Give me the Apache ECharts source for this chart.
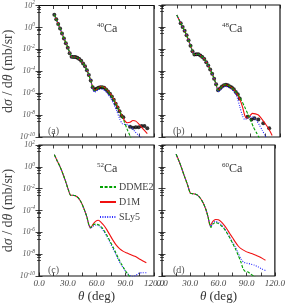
<!DOCTYPE html>
<html><head><meta charset="utf-8">
<script src="https://cdn.jsdelivr.net/npm/echarts@6/dist/echarts.min.js"></script>
<style>html,body{margin:0;padding:0;background:#fff}#c{width:288px;height:305px}</style>
</head><body><div id="c"></div>
<script>
// ---------- tick labels ----------
const xTickValues = [0, 30, 60, 90, 120];
const xTickLabels = ['0.0', '30.0', '60.0', '90.0', '120.0'];
const yTickExps = [2, 0, -2, -4, -6, -8, -10];
const panelTags = ['(a)', '(b)', '(c)', '(d)'];
const isotopes = [['40', 'Ca'], ['48', 'Ca'], ['52', 'Ca'], ['60', 'Ca']];
const modelNames = ['DDME2', 'D1M', 'SLy5'];

// ---------- panel (a) 40Ca ----------
const a_common = [[16,1.5e1],[18,5.6],[21,1.26],[24,2.8e-1],[27,6.3e-2],[30,1.6e-2],[32,5.0e-3],[34,2.1e-3],[36,2.0e-3],[39,1.9e-3],[42,1.3e-3],[45,7.1e-4],[48,2.8e-4],[51,7.9e-5],[54,1.4e-5]];
const a_ddme2 = a_common.concat([[56,3.5e-6],[58,1.8e-6],[60,2.2e-6],[62,3.2e-6],[65,3.8e-6],[68,3.2e-6],[71,1.9e-6],[74,8.9e-7],[77,3.5e-7],[80,1.1e-7],[83,3.5e-8],[86,1.0e-8],[89,2.5e-9],[92,5.0e-10],[95,1.26e-10],[98,3.2e-11]]);
const a_d1m = a_common.concat([[56,3.5e-6],[58,1.8e-6],[60,2.2e-6],[62,3.2e-6],[65,4.0e-6],[68,3.5e-6],[71,2.0e-6],[74,1.0e-6],[77,4.0e-7],[80,1.3e-7],[83,4.0e-8],[86,1.1e-8],[89,3.5e-9],[92,2.0e-9],[95,2.2e-9],[98,3.2e-9],[101,2.8e-9],[104,1.6e-9],[107,7.9e-10],[110,4.0e-10],[113,2.0e-10]]);
const a_sly5 = a_common.concat([[56,2.5e-6],[58,1.26e-6],[60,1.6e-6],[63,2.2e-6],[66,2.2e-6],[69,1.6e-6],[72,7.9e-7],[75,3.2e-7],[78,1.0e-7],[81,2.5e-8],[84,5.0e-9],[87,1.6e-9],[90,1.4e-9],[93,1.26e-9],[96,7.9e-10],[100,3.2e-10],[104,1.4e-10],[108,6.3e-11]]);
const a_exp = [[16,1.4e1],[18,5.6],[20,2.0],[22,7.9e-1],[24,2.8e-1],[26,1.0e-1],[28,3.5e-2],[30,1.4e-2],[32,4.5e-3],[34,2.1e-3],[36,2.0e-3],[38,2.0e-3],[40,1.7e-3],[42,1.3e-3],[44,8.9e-4],[46,5.0e-4],[48,2.8e-4],[50,1.26e-4],[52,4.5e-5],[54,1.4e-5],[56,3.5e-6],[58,2.0e-6],[60,2.5e-6],[62,3.2e-6],[64,3.5e-6],[66,3.5e-6],[68,3.2e-6],[70,2.2e-6],[72,1.4e-6],[74,8.9e-7],[76,5.0e-7],[78,2.5e-7],[80,1.1e-7],[82,5.0e-8],[84,2.2e-8],[86,8.9e-9],[88,6.3e-9],[95,8.7e-10],[98,7.1e-10],[101,7.6e-10],[104,7.9e-10],[107,1.0e-9],[110,1.0e-9],[113,6.3e-10]];

// ---------- panel (b) 48Ca ----------
const b_common = [[15,1.26e1],[18,3.5],[21,1.0],[24,2.8e-1],[27,6.3e-2],[30,1.1e-2],[32,3.5e-3],[34,3.2e-3],[37,3.3e-3],[40,2.2e-3],[43,1.26e-3],[46,4.5e-4],[49,1.4e-4],[52,3.5e-5],[55,6.3e-6]];
const b_ddme2 = b_common.concat([[57,1.8e-6],[59,2.5e-6],[61,4.0e-6],[64,5.6e-6],[67,5.0e-6],[70,3.5e-6],[73,2.0e-6],[76,1.0e-6],[78,6.3e-7],[81,2.0e-7],[84,5.6e-8],[87,1.4e-8],[90,3.5e-9],[93,7.9e-10],[96,2.5e-10],[99,7.9e-11]]);
const b_d1m = b_common.concat([[57,1.8e-6],[59,2.5e-6],[61,4.0e-6],[64,5.6e-6],[67,5.0e-6],[70,3.5e-6],[73,2.0e-6],[76,8.9e-7],[79,2.8e-7],[82,5.0e-8],[84,1.0e-8],[86,5.0e-9],[89,7.9e-9],[92,1.4e-8],[95,1.26e-8],[98,1.0e-8],[101,5.0e-9],[104,2.2e-9],[107,8.9e-10],[110,3.2e-10],[112,1.4e-10]]);
const b_sly5 = b_common.concat([[57,1.3e-6],[59,1.8e-6],[61,2.8e-6],[64,4.0e-6],[67,3.5e-6],[70,2.5e-6],[73,1.4e-6],[76,5.0e-7],[79,6.3e-8],[82,7.9e-9],[84,4.0e-9],[87,5.0e-9],[90,7.1e-9],[93,6.3e-9],[96,3.2e-9],[99,1.26e-9],[102,4.0e-10],[105,1.26e-10],[108,4.0e-11]]);
const b_exp = [[19,2.2],[21,1.0],[23,4.5e-1],[25,1.8e-1],[27,6.3e-2],[29,2.0e-2],[31,6.3e-3],[33,3.2e-3],[35,3.3e-3],[37,3.3e-3],[39,2.5e-3],[41,1.9e-3],[43,1.26e-3],[45,6.3e-4],[47,3.2e-4],[49,1.4e-4],[51,5.6e-5],[53,2.0e-5],[55,6.3e-6],[57,1.8e-6],[59,2.5e-6],[61,4.0e-6],[63,5.0e-6],[65,5.6e-6],[67,5.0e-6],[69,4.0e-6],[71,3.2e-6],[73,2.2e-6],[75,1.26e-6],[77,7.9e-7],[79,3.2e-7],[87,7.1e-9],[91,4.0e-9],[94,5.0e-9],[98,4.0e-9],[103,1.8e-9],[109,6.3e-10]];

// ---------- panel (c) 52Ca ----------
const c_common = [[16,1.26e1],[19,3.5],[22,1.0],[25,2.2e-1],[28,4.0e-2],[31,6.3e-3],[33,2.5e-3],[35,2.5e-3],[38,2.2e-3],[41,1.4e-3],[44,5.6e-4],[47,1.4e-4],[50,2.5e-5],[52,5.0e-6]];
const c_ddme2 = c_common.concat([[54,2.8e-6],[56,4.5e-6],[59,5.6e-6],[62,5.0e-6],[65,3.2e-6],[68,1.4e-6],[71,5.0e-7],[74,1.6e-7],[77,5.0e-8],[80,1.4e-8],[83,4.0e-9],[86,1.26e-9],[89,4.5e-10],[92,1.8e-10],[95,7.9e-11]]);
const c_d1m = c_common.concat([[54,2.5e-6],[56,5.0e-6],[59,1.0e-5],[62,1.26e-5],[65,7.9e-6],[68,4.0e-6],[71,1.6e-6],[74,5.6e-7],[77,2.0e-7],[80,7.9e-8],[84,3.2e-8],[88,1.8e-8],[92,1.26e-8],[96,8.9e-9],[100,6.3e-9],[104,4.0e-9],[108,2.5e-9],[112,1.6e-9]]);
const c_sly5 = c_common.concat([[54,2.2e-6],[56,3.5e-6],[59,4.5e-6],[62,4.0e-6],[65,2.5e-6],[68,1.1e-6],[71,4.0e-7],[74,1.26e-7],[77,3.5e-8],[80,1.0e-8],[83,2.8e-9],[86,1.0e-9],[89,4.0e-10],[92,1.8e-10],[95,1.1e-10],[98,8.9e-11],[101,1.1e-10],[104,1.8e-10],[108,2.0e-10],[112,2.0e-10]]);

// ---------- panel (d) 60Ca ----------
const d_common = [[15,1.4e1],[18,3.5],[21,7.1e-1],[24,1.26e-1],[27,2.5e-2],[30,4.0e-3],[32,3.5e-3],[35,3.2e-3],[38,2.4e-3],[41,1.26e-3],[44,4.5e-4],[47,1.0e-4],[49,2.5e-5],[51,4.5e-6]];
const d_ddme2 = d_common.concat([[52,2.8e-6],[54,5.6e-6],[57,7.9e-6],[60,6.3e-6],[63,4.0e-6],[66,2.2e-6],[69,8.9e-7],[72,3.2e-7],[75,1.0e-7],[78,3.2e-8],[81,7.9e-9],[84,1.8e-9],[86,5.0e-10],[88,2.8e-10],[91,2.4e-10],[94,1.6e-10],[98,8.9e-11],[102,5.0e-11]]);
const d_d1m = d_common.concat([[52,5.0e-6],[54,1.0e-5],[57,1.5e-5],[60,1.4e-5],[63,8.9e-6],[66,4.5e-6],[69,2.0e-6],[72,7.9e-7],[75,3.2e-7],[78,1.26e-7],[81,5.6e-8],[84,3.2e-8],[88,2.0e-8],[92,1.4e-8],[96,1.1e-8],[100,7.9e-9],[104,5.6e-9],[108,3.5e-9],[110,2.8e-9]]);
const d_sly5 = d_common.concat([[52,3.5e-6],[54,7.1e-6],[57,1.0e-5],[60,7.9e-6],[63,5.0e-6],[66,2.5e-6],[69,1.0e-6],[72,3.5e-7],[75,1.26e-7],[78,4.5e-8],[81,1.26e-8],[84,3.5e-9],[87,1.8e-9],[90,1.5e-9],[94,1.26e-9],[98,1.0e-9],[102,7.1e-10],[106,4.5e-10],[110,3.2e-10]]);

// ---------- chart ----------
const SERIF = "'Liberation Serif','DejaVu Serif',serif";
const panels = [
  {exp: a_exp, ddme2: a_ddme2, d1m: a_d1m, sly5: a_sly5},
  {exp: b_exp, ddme2: b_ddme2, d1m: b_d1m, sly5: b_sly5},
  {exp: null, ddme2: c_ddme2, d1m: c_d1m, sly5: c_sly5},
  {exp: null, ddme2: d_ddme2, d1m: d_d1m, sly5: d_sly5}
];
const gridBoxes = [
  {left: 37, top: 5, width: 117, height: 132},
  {left: 162, top: 5, width: 118, height: 132},
  {left: 37, top: 145, width: 117, height: 131},
  {left: 162, top: 145, width: 118, height: 131}
];
const colors = {DDME2: '#00a000', D1M: '#f01010', SLy5: '#2a2aff'};
const lineTypes = {DDME2: [3, 1.6], D1M: 'solid', SLy5: [1, 1.4]};

const grid = [], xAxis = [], yAxis = [], series = [], title = [];
gridBoxes.forEach((g, i) => {
  grid.push(Object.assign({show: true, borderColor: '#111', borderWidth: 1.2, backgroundColor: 'transparent'}, g));
  const bottomRow = i >= 2, leftCol = i % 2 === 0;
  const xBase = {
    type: 'value', gridIndex: i, min: 0, max: 120, interval: 30,
    splitLine: {show: false}, axisLine: {show: false},
    axisTick: {show: true, inside: true, length: 3.5, lineStyle: {color: '#111', width: 0.8}},
    minorTick: {show: true, splitNumber: 2, length: 3.5, lineStyle: {color: '#111', width: 0.8}},
    minorSplitLine: {show: false}
  };
  xAxis.push(Object.assign({}, xBase, {
    position: 'bottom',
    axisLabel: {show: bottomRow, margin: 3, fontSize: 9, fontStyle: 'italic', fontFamily: SERIF, color: '#444',
      formatter: v => xTickLabels[xTickValues.indexOf(v)]},
    name: bottomRow ? '{i|θ} (deg)' : '', nameLocation: 'middle', nameGap: 14,
    nameTextStyle: {fontFamily: SERIF, fontSize: 13, color: '#333', rich: {i: {fontFamily: SERIF, fontSize: 13, fontStyle: 'italic', color: '#333'}}}
  }));
  xAxis.push(Object.assign({}, xBase, {position: 'top', axisLabel: {show: false}}));
  const yBase = {
    type: 'log', logBase: 10, gridIndex: i, min: 1e-10, max: 1e2, interval: 2,
    splitLine: {show: false}, axisLine: {show: false},
    axisTick: {show: true, inside: true, length: 3.5, lineStyle: {color: '#111', width: 0.8}},
    minorTick: {show: true, splitNumber: 4, length: 2, lineStyle: {color: '#111', width: 0.7}},
    minorSplitLine: {show: false}
  };
  yAxis.push(Object.assign({}, yBase, {
    position: 'left',
    axisLabel: {show: leftCol, margin: 4, fontFamily: SERIF, color: '#555',
      formatter: v => {
        const e = Math.round(Math.log10(v));
        const k = yTickExps.indexOf(e);
        return k < 0 ? '' : '{b|10}{s|' + (yTickExps[k] < 0 ? '-' + (-yTickExps[k]) : yTickExps[k]) + '}';
      },
      rich: {b: {fontSize: 8, fontStyle: 'italic', fontFamily: SERIF, color: '#555'},
             s: {fontSize: 5.5, fontStyle: 'italic', fontFamily: SERIF, color: '#555', padding: [0, 0, 5, 0]}}},
    name: leftCol ? '{n|d}{i|σ}{n| / d}{i|θ}{n| (mb/sr)}' : '', nameLocation: 'middle', nameGap: 24, nameRotate: 90,
    nameTextStyle: {fontFamily: SERIF, fontSize: 14, color: '#444',
      rich: {n: {fontFamily: SERIF, fontSize: 14, color: '#444'}, i: {fontFamily: SERIF, fontSize: 14, fontStyle: 'italic', color: '#444'}}}
  }));
  yAxis.push(Object.assign({}, yBase, {position: 'right', axisLabel: {show: false}}));

  const p = panels[i];
  if (p.exp) {
    series.push({type: 'scatter', xAxisIndex: 2 * i, yAxisIndex: 2 * i, data: p.exp, symbol: 'circle',
      symbolSize: 4, itemStyle: {color: '#000'}, z: 2, silent: true});
  }
  [['D1M', p.d1m], ['SLy5', p.sly5], ['DDME2', p.ddme2]].forEach(([nm, d]) => {
    series.push({type: 'line', name: nm, xAxisIndex: 2 * i, yAxisIndex: 2 * i, data: d, smooth: 0.25,
      symbol: 'none', clip: true, z: 3, silent: true,
      lineStyle: {color: colors[nm], width: 1.1, type: lineTypes[nm]}, itemStyle: {color: colors[nm]}});
  });

  title.push({text: panelTags[i], left: g.left + 6, top: g.top + g.height - 16,
    textStyle: {fontFamily: SERIF, fontSize: 10, fontWeight: 'normal', color: '#555'}});
  title.push({text: '{s|' + isotopes[i][0] + '}{b|' + isotopes[i][1] + '}',
    left: g.left + 55, top: g.top + 12,
    textStyle: {fontWeight: 'normal', rich: {s: {fontFamily: SERIF, fontSize: 7, fontWeight: 'normal', color: '#333', padding: [0, 0, 6, 0]},
                       b: {fontFamily: SERIF, fontSize: 12, fontWeight: 'normal', color: '#333'}}}});
});

const chart = echarts.init(document.getElementById('c'), null, {renderer: 'canvas'});
chart.setOption({
  animation: false,
  backgroundColor: '#fff',
  grid, xAxis, yAxis, series, title,
  legend: {data: modelNames, orient: 'vertical', left: 94, top: 177, itemWidth: 16, itemHeight: 8, itemGap: 5,
    selectedMode: false, itemStyle: {opacity: 0},
    textStyle: {fontFamily: SERIF, fontSize: 10, color: '#444', padding: [0, 0, 0, -2]}}
});
</script></body></html>
